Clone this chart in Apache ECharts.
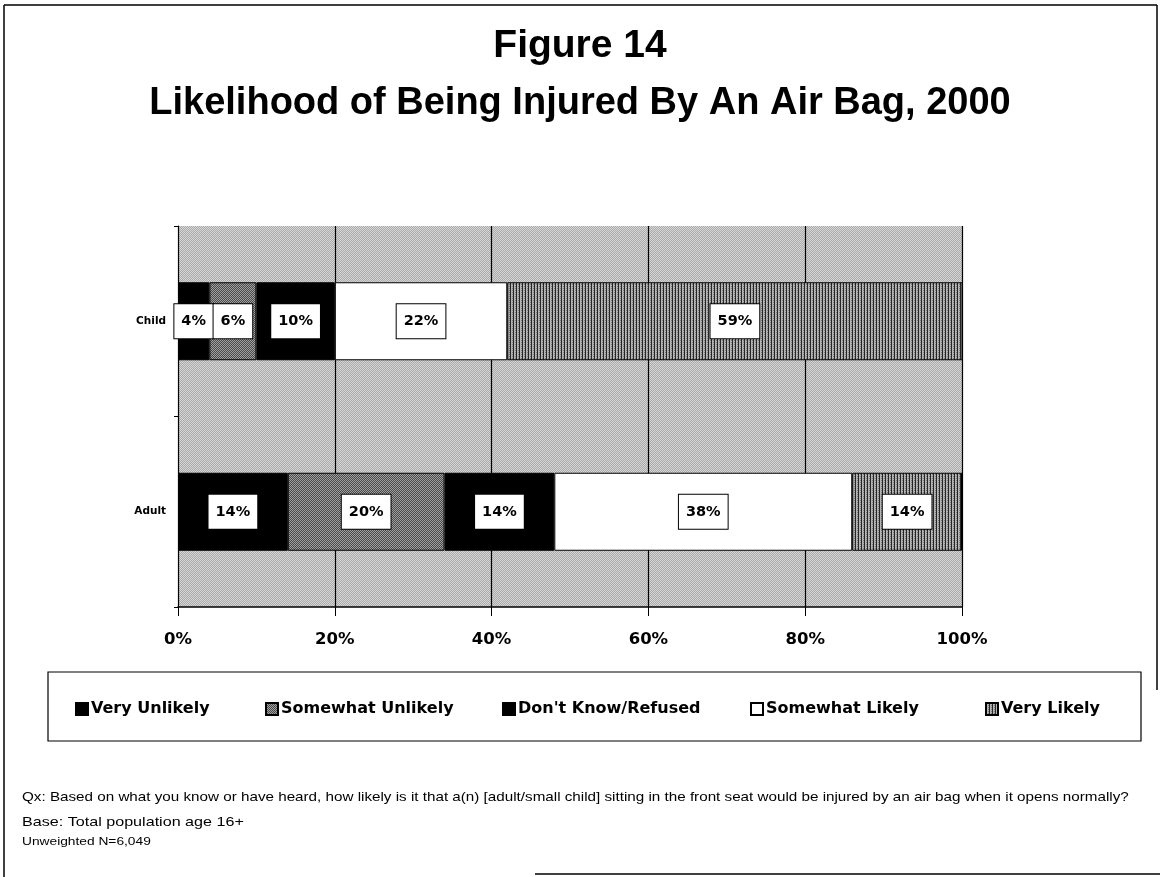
<!DOCTYPE html>
<html>
<head>
<meta charset="utf-8">
<title>Figure 14</title>
<script src="https://cdn.jsdelivr.net/npm/echarts@6/dist/echarts.min.js"></script>
<style>
  html, body { margin: 0; padding: 0; background: #fff; }
  #chart { width: 1160px; height: 877px; }
</style>
</head>
<body>
<div id="chart"></div>
<script>
// Survey responses (percent) for each person type
const categories = ['Child', 'Adult'];
const veryUnlikely = [4, 14];
const somewhatUnlikely = [6, 20];
const dontKnow = [10, 14];
const somewhatLikely = [22, 38];
const veryLikely = [59, 14];
const seriesNames = ['Very Unlikely', 'Somewhat Unlikely', "Don't Know/Refused", 'Somewhat Likely', 'Very Likely'];

// Small tiled textures that imitate the printed screen fills
function makePattern(w, h, draw) {
  const c = document.createElement('canvas');
  c.width = w; c.height = h;
  draw(c.getContext('2d'));
  return { image: c, repeat: 'repeat' };
}
function checker(a, b) {
  return makePattern(2, 2, g => {
    g.fillStyle = a; g.fillRect(0, 0, 2, 2);
    g.fillStyle = b; g.fillRect(0, 0, 1, 1); g.fillRect(1, 1, 1, 1);
  });
}
const plotFill = checker('#aaaaaa', '#d6d6d6');
const midGrayFill = checker('#4a4a4a', '#a0a0a0');
const stripeFill = makePattern(3, 2, g => {
  g.fillStyle = '#b4b4b4'; g.fillRect(0, 0, 3, 2);
  g.fillStyle = '#262626'; g.fillRect(0, 0, 1, 2);
  g.fillStyle = '#7a7a7a'; g.fillRect(2, 0, 1, 1);
});

const seriesData = [veryUnlikely, somewhatUnlikely, dontKnow, somewhatLikely, veryLikely];
const seriesFills = ['#000000', midGrayFill, '#000000', '#ffffff', stripeFill];

const labelFont = 'DejaVu Sans';
const chart = echarts.init(document.getElementById('chart'), null, { renderer: 'canvas' });

const legendLefts = [75, 265, 502, 750, 985];

// Footnote lines: text, centre y, font, horizontal stretch
const notes = [
  ['Qx: Based on what you know or have heard, how likely is it that a(n) [adult/small child] sitting in the front seat would be injured by an air bag when it opens normally?', 797, '13px "Liberation Sans"', 1.17],
  ['Base: Total population age 16+', 822, '13px "Liberation Sans"', 1.24],
  ['Unweighted N=6,049', 842, '11px "Liberation Sans"', 1.25]
];

const option = {
  backgroundColor: '#ffffff',
  animation: false,
  title: [
    {
      text: 'Figure 14',
      left: 'center', top: 22,
      textStyle: { fontFamily: 'Liberation Sans', fontWeight: 'bold', fontSize: 39, color: '#000' }
    },
    {
      text: 'Likelihood of Being Injured By An Air Bag, 2000',
      left: 'center', top: 80,
      textStyle: { fontFamily: 'Liberation Sans', fontWeight: 'bold', fontSize: 38, color: '#000' }
    }
  ],
  legend: seriesNames.map((name, i) => ({
    data: [name],
    left: legendLefts[i],
    top: 701,
    padding: 0,
    itemWidth: 12,
    itemHeight: 12,
    itemGap: 4,
    icon: 'rect',
    selectedMode: false,
    textStyle: { fontFamily: labelFont, fontWeight: 'bold', fontSize: 16, color: '#000', padding: [0, 0, 0, -2] }
  })),
  grid: {
    left: 178, right: 198, top: 226, bottom: 270,
    show: true,
    backgroundColor: plotFill,
    borderWidth: 0
  },
  xAxis: {
    type: 'value',
    min: 0, max: 100, interval: 20,
    axisLine: { show: true, lineStyle: { color: '#000', width: 1.5 } },
    axisTick: { show: true, length: 9, lineStyle: { color: '#000' } },
    splitLine: { show: true, lineStyle: { color: '#000', width: 1.2 } },
    axisLabel: {
      formatter: '{value}%', margin: 24,
      fontFamily: labelFont, fontWeight: 'bold', fontSize: 16.5, color: '#000'
    }
  },
  yAxis: {
    type: 'category',
    data: categories,
    inverse: true,
    axisLine: { show: true, lineStyle: { color: '#000', width: 1 } },
    axisTick: { show: true, length: 4, lineStyle: { color: '#000' } },
    axisLabel: { margin: 12, fontFamily: labelFont, fontWeight: 'bold', fontSize: 10.5, color: '#000' }
  },
  series: seriesNames.map((name, i) => ({
    name: name,
    type: 'bar',
    stack: 'total',
    barWidth: 78,
    data: seriesData[i],
    itemStyle: { color: seriesFills[i], borderColor: '#000', borderWidth: 1 },
    label: {
      show: true,
      position: 'inside',
      formatter: '{c}%',
      fontFamily: labelFont, fontWeight: 'bold', fontSize: 14.5, color: '#000',
      backgroundColor: '#fff',
      borderColor: '#000', borderWidth: 1,
      padding: [10, 7, 9, 7]
    }
  })),
  graphic: [
    // page frame
    { type: 'line', shape: { x1: 4, y1: 5, x2: 1157, y2: 5 }, style: { stroke: '#000', lineWidth: 1.5 } },
    { type: 'line', shape: { x1: 4, y1: 5, x2: 4, y2: 877 }, style: { stroke: '#000', lineWidth: 1.5 } },
    { type: 'line', shape: { x1: 1157, y1: 5, x2: 1157, y2: 690 }, style: { stroke: '#000', lineWidth: 1.5 } },
    { type: 'line', shape: { x1: 535, y1: 874, x2: 1160, y2: 874 }, style: { stroke: '#000', lineWidth: 1.5 } },
    // legend box
    { type: 'rect', shape: { x: 48, y: 672, width: 1093, height: 69 }, style: { fill: 'none', stroke: '#000', lineWidth: 1.2 }, z: 0 }
  ].concat(notes.map(n => ({
    type: 'text', x: 22, y: n[1], scaleX: n[3],
    style: { text: n[0], x: 0, y: 0, font: n[2], fill: '#000', verticalAlign: 'middle' }
  })))
};

chart.setOption(option);
</script>
</body>
</html>
